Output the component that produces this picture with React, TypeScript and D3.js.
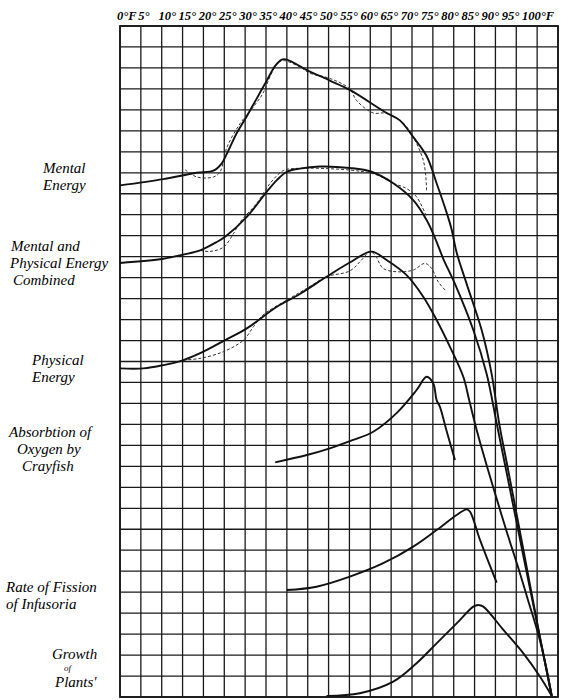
import { useEffect, useRef } from "react";
import * as d3 from "d3";

// column labels along the top (each column = 5 degrees)
const tempLabels = ["0°F", "5°", "10°", "15°", "20°", "25°", "30°", "35°", "40°", "45°", "50°",
  "55°", "60°", "65°", "70°", "75°", "80°", "85°", "90°", "95°", "100°F"];
const tempValues = tempLabels.map((_, i) => i * 5);

// curves: [temperature, grid units from bottom]
const mentalSolid = [[0, 24.4], [10.4, 24.7], [18.4, 25.0], [22.4, 25.1], [24.4, 25.45], [25.6, 25.9],
  [28.0, 26.9], [30.4, 27.7], [32.8, 28.55], [35.2, 29.4], [37.2, 30.1], [38.8, 30.4], [40.0, 30.4],
  [44.8, 29.9], [50.3, 29.4], [55.1, 28.95], [63.5, 27.9], [67.1, 27.5], [70.3, 26.7], [73.5, 25.8],
  [75.9, 24.5], [78.3, 23.1], [79.5, 22.3], [80.7, 21.2], [83.1, 19.7], [86.7, 17.5], [89.1, 15.4],
  [90.9, 13.05], [92.9, 10.98], [95.2, 8.6], [98.2, 5.44], [100.8, 2.72], [103.5, 0.05]];
const mentalDashed = [[15.6, 25.15], [18.4, 24.8], [22.4, 24.8], [24.0, 25.05], [25.6, 26.2],
  [28.8, 27.35], [32.0, 28.15], [34.3, 28.8], [36.0, 29.6], [37.6, 30.2], [39.1, 30.35], [43.1, 30.05],
  [45.5, 29.75], [50.3, 29.5], [55.1, 29.0], [56.7, 28.45], [60.7, 27.85], [63.5, 27.85], [66.3, 27.6],
  [68.7, 27.2], [72.7, 25.6], [73.5, 24.1]];
const combinedSolid = [[0, 20.7], [10.4, 20.9], [15.2, 21.1], [19.2, 21.3], [23.2, 21.7], [25.2, 21.95],
  [30.4, 22.9], [35.2, 24.1], [37.6, 24.65], [40.0, 25.05], [43.1, 25.2], [47.9, 25.3], [55.1, 25.23],
  [60.3, 25.05], [65.5, 24.5], [70.3, 23.7], [73.5, 22.75], [75.5, 21.9], [77.5, 20.9], [80.3, 19.7],
  [84.7, 17.5], [87.9, 15.4], [90.3, 13.05], [92.4, 10.98], [94.8, 8.6], [98.0, 5.44], [100.8, 2.72],
  [103.5, 0.05]];
const combinedDashed = [[19.2, 21.3], [21.6, 21.25], [24.8, 21.45], [27.2, 22.1], [28.8, 22.65],
  [32.8, 23.55], [36.0, 24.5], [39.1, 25.1], [41.5, 25.2], [55.1, 25.13], [61.5, 24.9], [65.5, 24.5],
  [68.7, 24.25], [71.1, 23.85], [73.5, 22.9]];
const physicalSolid = [[0, 15.67], [5.6, 15.67], [10.4, 15.83], [15.2, 16.07], [20.0, 16.47],
  [25.2, 17.02], [30.4, 17.58], [37.6, 18.61], [43.1, 19.22], [49.5, 20.04], [55.1, 20.72],
  [60.3, 21.24], [63.9, 20.84], [68.7, 20.12], [72.7, 19.09], [75.9, 17.98], [79.1, 16.7],
  [82.3, 15.27], [83.7, 14.16], [85.5, 12.73], [88.0, 10.98], [90.4, 9.39], [92.8, 7.82], [95.4, 6.21],
  [97.8, 4.63], [100.2, 3.05], [102.1, 1.48], [103.5, 0.05]];
const physicalDashed = [[15.2, 16.07], [19.2, 16.15], [24.8, 16.47], [29.6, 17.02], [32.0, 17.66],
  [34.3, 18.22], [40.0, 18.93], [44.8, 19.49], [49.5, 20.04], [55.1, 20.32], [57.9, 20.84], [59.9, 21.24],
  [61.1, 21.08], [63.1, 20.44], [66.3, 20.28], [70.3, 20.36], [73.1, 20.68], [74.7, 20.44], [76.3, 19.8],
  [78.3, 19.33]];
const crayfish = [[37.2, 11.19], [44.8, 11.54], [50.3, 11.86], [55.9, 12.26], [60.7, 12.65], [66.3, 13.54],
  [71.1, 14.64], [73.5, 15.27], [75.1, 14.95], [75.9, 14.16], [76.7, 13.84], [78.1, 12.83], [80.3, 11.3]];
const infusoria = [[40.0, 5.1], [47.1, 5.26], [55.1, 5.74], [63.1, 6.38], [70.3, 7.17], [75.9, 7.96],
  [80.7, 8.68], [83.1, 8.95], [83.9, 8.84], [86.3, 7.49], [90.3, 5.45]];
const plants = [[49.5, 0.05], [57.5, 0.18], [65.5, 0.73], [71.1, 1.61], [75.9, 2.56], [80.7, 3.51],
  [84.7, 4.31], [85.9, 4.39], [87.1, 4.31], [91.9, 3.2], [96.7, 2.08], [100.7, 0.97], [103.5, 0.05]];

// side captions: [text, x, baseline, size]
const captions = [
  ["Mental", 43, 173, 15], ["Energy", 43, 190, 15],
  ["Mental and", 11, 251, 15], ["Physical Energy", 10, 268, 15], ["Combined", 13, 285, 15],
  ["Physical", 32, 365, 15], ["Energy", 32, 382, 15],
  ["Absorbtion of", 9, 437, 15], ["Oxygen by", 17, 454, 15], ["Crayfish", 22, 471, 15],
  ["Rate of Fission", 6, 592, 15], ["of Infusoria", 6, 609, 15],
  ["Growth", 52, 659, 15], ["of", 64, 671, 9], ["Plants'", 55, 687, 15],
];

const solidCurves = [mentalSolid, combinedSolid, physicalSolid, crayfish, infusoria, plants];
const dashedCurves = [mentalDashed, combinedDashed, physicalDashed];

const App = () => {
  const svgRef = useRef<SVGSVGElement>(null);

  useEffect(() => {
    const svg = d3.select(svgRef.current);
    svg.selectAll("*").remove();

    const x = d3.scaleLinear().domain([0, 105]).range([120, 558]);
    const y = d3.scaleLinear().domain([0, 32]).range([697, 26]);
    // the printed labels run a little tighter than the columns
    const xLabel = d3.scaleLinear().domain([0, 100]).range([117, 521]);

    svg.append("rect").attr("width", 566).attr("height", 700).attr("fill", "#fff");

    const grid = svg.append("g").attr("stroke", "#1a1a1a").attr("stroke-width", 1.3);
    grid.selectAll(".v")
      .data(d3.range(0, 106, 5))
      .enter()
      .append("line")
      .attr("x1", (d) => x(d)).attr("x2", (d) => x(d))
      .attr("y1", y(32)).attr("y2", y(0));
    grid.selectAll(".h")
      .data(d3.range(0, 33))
      .enter()
      .append("line")
      .attr("x1", x(0)).attr("x2", x(105))
      .attr("y1", (d) => y(d)).attr("y2", (d) => y(d));
    grid.append("rect")
      .attr("x", x(0)).attr("y", y(32))
      .attr("width", x(105) - x(0)).attr("height", y(0) - y(32))
      .attr("fill", "none").attr("stroke-width", 1.8);

    svg.append("g")
      .selectAll("text")
      .data(tempValues)
      .enter()
      .append("text")
      .attr("x", (d) => xLabel(d) + (d === 0 ? 0 : 1))
      .attr("y", 20)
      .style("font-family", "'Liberation Serif', serif")
      .style("font-style", "italic")
      .style("font-weight", "bold")
      .style("font-size", "12.5px")
      .text((d, i) => tempLabels[i]);

    const line = d3.line<number[]>()
      .x((d) => x(d[0]))
      .y((d) => y(d[1]))
      .curve(d3.curveCatmullRom.alpha(0.5));

    svg.append("g")
      .selectAll("path")
      .data(dashedCurves)
      .enter()
      .append("path")
      .attr("d", (d) => line(d))
      .attr("fill", "none")
      .attr("stroke", "#333")
      .attr("stroke-width", 1)
      .attr("stroke-dasharray", "3,2");

    svg.append("g")
      .selectAll("path")
      .data(solidCurves)
      .enter()
      .append("path")
      .attr("d", (d) => line(d))
      .attr("fill", "none")
      .attr("stroke", "#111")
      .attr("stroke-width", 1.9)
      .attr("stroke-linejoin", "round");

    svg.append("g")
      .selectAll("text")
      .data(captions)
      .enter()
      .append("text")
      .attr("x", (d) => d[1])
      .attr("y", (d) => d[2])
      .style("font-family", "'Liberation Serif', serif")
      .style("font-style", "italic")
      .style("font-size", (d) => `${d[3]}px`)
      .text((d) => d[0]);
  }, []);

  return (
    <div style={{ position: "absolute", left: 0, top: 0 }}>
      <svg ref={svgRef} width="566" height="700" viewBox="0 0 566 700"></svg>
    </div>
  );
};

export default App;
